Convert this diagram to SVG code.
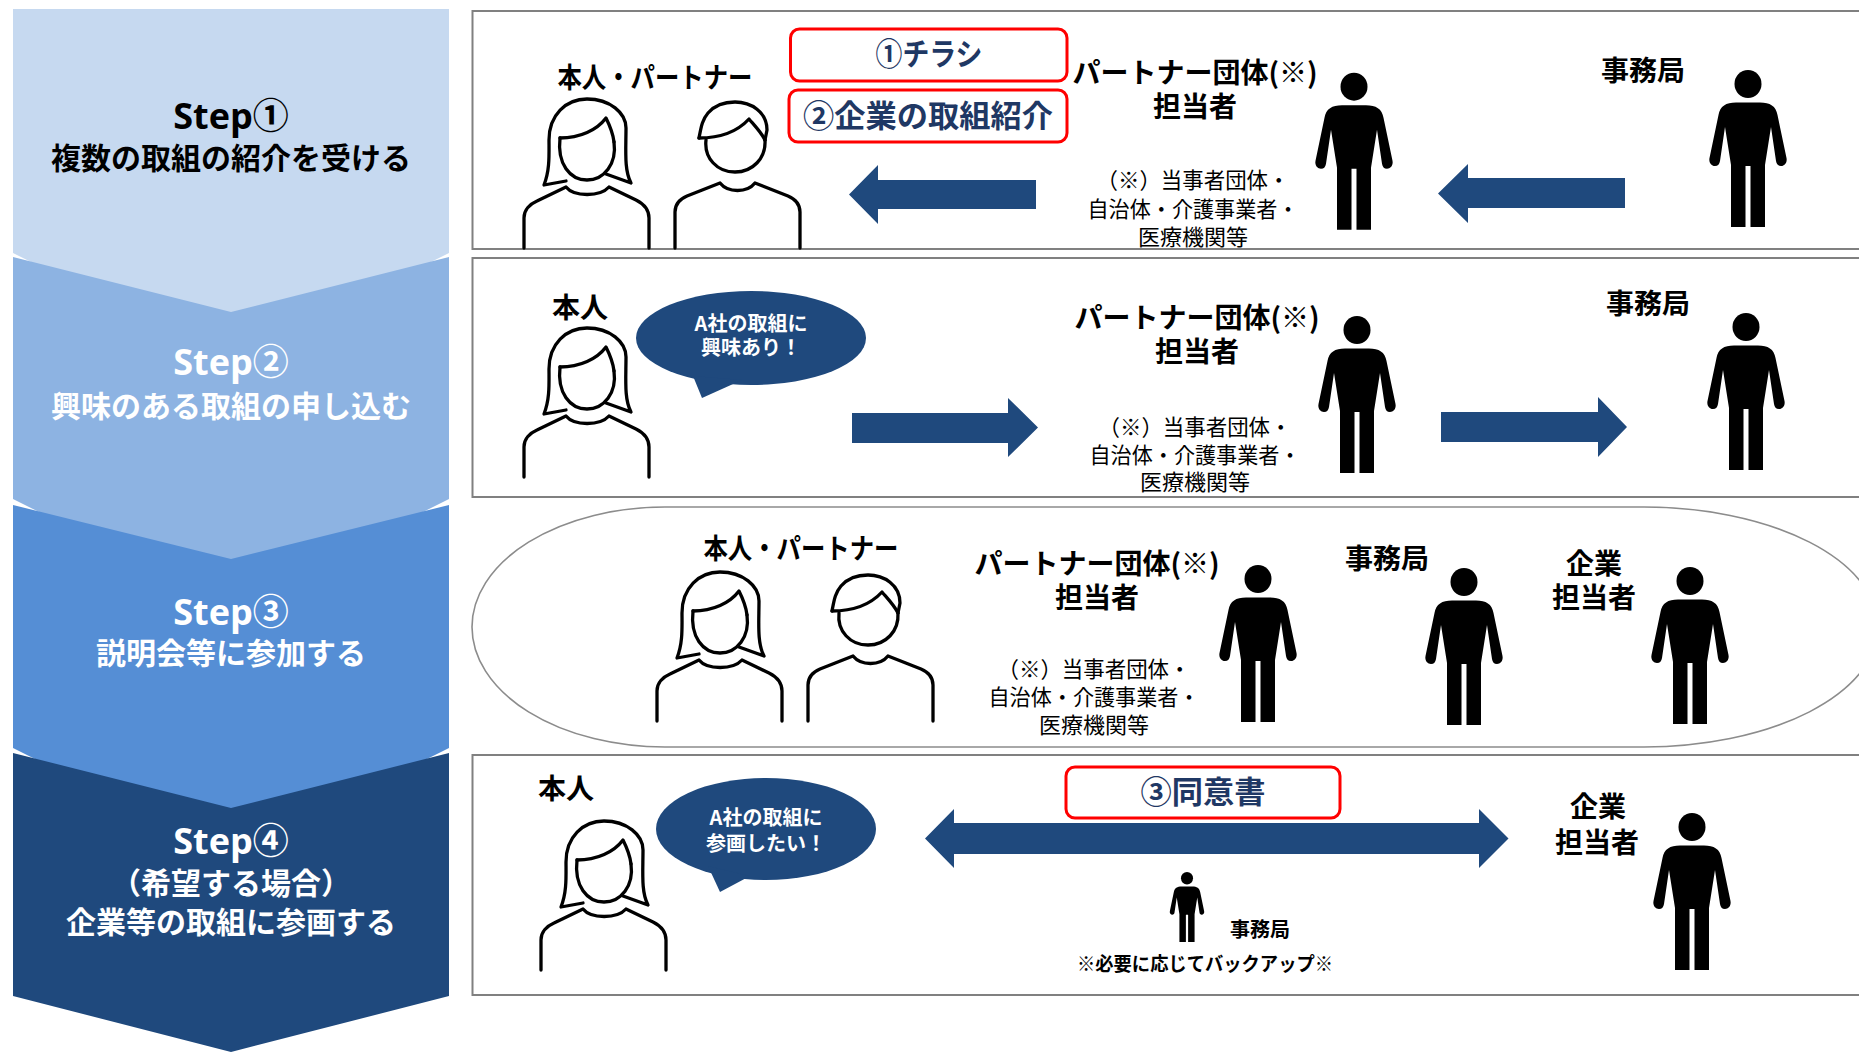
<svg xmlns="http://www.w3.org/2000/svg" width="1859" height="1054" viewBox="0 0 1859 1054">
<style>
  .lbl { font-family: 'Noto Sans CJK JP', sans-serif; font-weight: 700; font-size: 28px; fill: #000; text-anchor: middle; }
  .sm { font-family: 'Noto Sans CJK JP', sans-serif; font-weight: 400; font-size: 22px; fill: #000; text-anchor: middle; }
  .step { font-family: 'Noto Sans CJK JP', sans-serif; font-weight: 700; font-size: 30px; text-anchor: middle; }
  .stepno { font-family: 'Open Sans', 'Noto Sans CJK JP', sans-serif; font-weight: 700; font-size: 36px; text-anchor: middle; }
  .dark { fill: #000; }
  .light { fill: #fff; }
  .panel { fill: #fff; stroke: #808080; stroke-width: 2; }
  .oval { fill: #fff; stroke: #8c8c8c; stroke-width: 1.6; }
  .redbox { fill: #fff; stroke: #ff0000; stroke-width: 3; }
  .redtxt { font-family: 'Noto Sans CJK JP', sans-serif; font-weight: 700; font-size: 31px; fill: #1f3864; text-anchor: middle; }
  .bubble { fill: #1f497d; }
  .bubtxt { font-family: 'Noto Sans CJK JP', sans-serif; font-weight: 700; font-size: 20px; fill: #fff; text-anchor: middle; }
  .line { fill: none; stroke: #000; stroke-width: 3.3; stroke-linecap: round; stroke-linejoin: round; }
  .pict { fill: #000; }
  .arrow { fill: #1f497d; }
</style>
<defs>
  <!-- outline icon: woman (126 x 150) -->
  <g id="woman">
    <path class="line" d="M36,40 C33,66 46,82 63,82 C80,82 93,66 90,44"/>
    <path class="line" d="M36,40 C56,40 73,32 82,20 C86,28 89,35 90,44"/>
    <path class="line" d="M42,83 L20,87 C26,72 25,56 25,42 C25,17 42,1 63,1 C86,1 102,15 102,30 C102,52 100,72 107,85 L82,76"/>
    <path class="line" d="M0,150 V120 C0,112 6,106 13,103 L42,89 C50,99 76,99 85,89 L112,102 C120,106 125,112 125,120 V150"/>
  </g>
  <!-- outline icon: man (125 x 150) -->
  <g id="man">
    <path class="line" d="M31,42 C29,60 42,74 60,74 C78,74 91,60 90,42"/>
    <path class="line" d="M24,40 C45,40 62,34 74,21 C80,28 86,34 90,42"/>
    <path class="line" d="M24,40 C26,30 27,22 33,15 C40,7 50,4 60,4 C76,4 92,14 92,32 L90,42"/>
    <path class="line" d="M0,150 V114 C0,106 5,101 12,98 L45,85 C53,95 72,95 80,85 L113,98 C120,101 125,106 125,114 V150"/>
  </g>
  <!-- filled pictogram, origin at top of head -->
  <g id="person" class="pict">
    <ellipse cx="0" cy="14" rx="13.5" ry="14"/>
    <path d="M-12,32.5 L12,32.5 C22,32.5 28,36 29.5,45 L38.5,88 C39.5,93 36,96 33,96 C30,96 28.5,94 28,91 L23,57 L17,95 L17,157 L2.5,157 L2.5,96 L-2.5,96 L-2.5,157 L-17,157 L-17,95 L-23,57 L-28,91 C-28.5,94 -30,96 -33,96 C-36,96 -39.5,93 -38.5,88 L-29.5,45 C-28,36 -22,32.5 -12,32.5 Z"/>
  </g>
</defs>

<rect x="0" y="0" width="1859" height="1054" fill="#fff"/>

<!-- step chevrons: each point runs on under the next step, leaving a thin white notch at the sides -->
<g id="steps">
  <g id="step1">
    <path d="M13,9 H449 V253 L231,362 L13,253 Z" fill="#c6d9f0"/>
    <text class="stepno dark" x="231" y="129">Step①</text>
    <text class="step dark" x="231" y="169">複数の取組の紹介を受ける</text>
  </g>
  <g id="step2">
    <path d="M13,257 L231,312 L449,257 V499 L231,608 L13,499 Z" fill="#8db3e2"/>
    <text class="stepno light" x="231" y="375">Step②</text>
    <text class="step light" x="231" y="417">興味のある取組の申し込む</text>
  </g>
  <g id="step3">
    <path d="M13,505 L231,559 L449,505 V748 L231,857 L13,748 Z" fill="#558ed5"/>
    <text class="stepno light" x="231" y="625">Step③</text>
    <text class="step light" x="231" y="664">説明会等に参加する</text>
  </g>
  <g id="step4">
    <path d="M13,753 L231,808 L449,753 V996 L231,1052 L13,996 Z" fill="#1f497d"/>
    <text class="stepno light" x="231" y="854">Step④</text>
    <text class="step light" x="231" y="894">（希望する場合）</text>
    <text class="step light" x="231" y="933">企業等の取組に参画する</text>
  </g>
</g>

<!-- panel frames -->
<g id="frames">
  <rect class="panel" x="472.5" y="11" width="1420" height="238"/>
  <rect class="panel" x="472.5" y="258" width="1420" height="239"/>
  <path class="oval" d="M665,507 H1644 A234,120 0 0 1 1644,747 H665 A193,120 0 0 1 665,507 Z"/>
  <rect class="panel" x="472.5" y="755" width="1420" height="240"/>
</g>

<!-- connectors -->
<g id="connectors">
  <polygon class="arrow" points="849,194.5 878,165 878,180 1036,180 1036,209 878,209 878,224"/>
  <polygon class="arrow" points="1438,193.5 1468,164 1468,178 1625,178 1625,208 1468,208 1468,223"/>
  <polygon class="arrow" points="1038,427.5 1008,398 1008,413 852,413 852,443 1008,443 1008,457"/>
  <polygon class="arrow" points="1627,427 1598,397 1598,412 1441,412 1441,442 1598,442 1598,457"/>
  <polygon class="arrow" points="925,838.5 954,809 954,823 1479,823 1479,809 1508.5,838.5 1479,868 1479,854 954,854 954,868"/>
</g>

<!-- step 1 row -->
<g id="s1-user">
  <text class="lbl" x="655" y="88" textLength="195" lengthAdjust="spacingAndGlyphs">本人・パートナー</text>
  <use href="#woman" transform="translate(524,98)"/>
  <use href="#man" transform="translate(675,98)"/>
</g>
<g id="s1-flyer">
  <rect class="redbox" x="790.5" y="29" width="276.5" height="52" rx="9"/>
  <text class="redtxt" x="929" y="65" textLength="107" lengthAdjust="spacingAndGlyphs">①チラシ</text>
</g>
<g id="s1-intro">
  <rect class="redbox" x="789" y="90" width="278" height="52" rx="9"/>
  <text class="redtxt" x="928" y="127" textLength="250" lengthAdjust="spacingAndGlyphs">②企業の取組紹介</text>
</g>
<g id="s1-partner">
  <text class="lbl" x="1195" y="83">パートナー団体(※)</text>
  <text class="lbl" x="1195" y="117">担当者</text>
  <text class="sm" x="1193" y="188" textLength="193" lengthAdjust="spacingAndGlyphs">（※）当事者団体・</text>
  <text class="sm" x="1193" y="217" textLength="211" lengthAdjust="spacingAndGlyphs">自治体・介護事業者・</text>
  <text class="sm" x="1193" y="245">医療機関等</text>
  <use href="#person" transform="translate(1354,72.7)"/>
</g>
<g id="s1-office">
  <text class="lbl" x="1643" y="81">事務局</text>
  <use href="#person" transform="translate(1748,70)"/>
</g>

<!-- step 2 row -->
<g id="s2-user">
  <text class="lbl" x="580" y="318">本人</text>
  <use href="#woman" transform="translate(524,327)"/>
</g>
<g id="s2-bubble">
  <ellipse class="bubble" cx="751" cy="338" rx="115" ry="47"/>
  <polygon class="bubble" points="693,376 702,398 742,380"/>
  <text class="bubtxt" x="751" y="331">A社の取組に</text>
  <text class="bubtxt" x="751" y="355">興味あり！</text>
</g>
<g id="s2-partner">
  <text class="lbl" x="1197" y="328">パートナー団体(※)</text>
  <text class="lbl" x="1197" y="362">担当者</text>
  <text class="sm" x="1195" y="435" textLength="193" lengthAdjust="spacingAndGlyphs">（※）当事者団体・</text>
  <text class="sm" x="1195" y="463" textLength="211" lengthAdjust="spacingAndGlyphs">自治体・介護事業者・</text>
  <text class="sm" x="1195" y="490">医療機関等</text>
  <use href="#person" transform="translate(1357,316)"/>
</g>
<g id="s2-office">
  <text class="lbl" x="1648" y="314">事務局</text>
  <use href="#person" transform="translate(1746,313)"/>
</g>

<!-- step 3 row -->
<g id="s3-user">
  <text class="lbl" x="801" y="559" textLength="195" lengthAdjust="spacingAndGlyphs">本人・パートナー</text>
  <use href="#woman" transform="translate(657,571)"/>
  <use href="#man" transform="translate(808,571)"/>
</g>
<g id="s3-partner">
  <text class="lbl" x="1097" y="574">パートナー団体(※)</text>
  <text class="lbl" x="1097" y="608">担当者</text>
  <text class="sm" x="1094" y="677" textLength="193" lengthAdjust="spacingAndGlyphs">（※）当事者団体・</text>
  <text class="sm" x="1094" y="705" textLength="211" lengthAdjust="spacingAndGlyphs">自治体・介護事業者・</text>
  <text class="sm" x="1094" y="733">医療機関等</text>
  <use href="#person" transform="translate(1258,565)"/>
</g>
<g id="s3-office">
  <text class="lbl" x="1387" y="569">事務局</text>
  <use href="#person" transform="translate(1464,568)"/>
</g>
<g id="s3-company">
  <text class="lbl" x="1594" y="574">企業</text>
  <text class="lbl" x="1594" y="608">担当者</text>
  <use href="#person" transform="translate(1690,567)"/>
</g>

<!-- step 4 row -->
<g id="s4-user">
  <text class="lbl" x="566" y="799">本人</text>
  <use href="#woman" transform="translate(541,820)"/>
</g>
<g id="s4-bubble">
  <ellipse class="bubble" cx="766" cy="829" rx="110" ry="51"/>
  <polygon class="bubble" points="708,866 720,892 750,876"/>
  <text class="bubtxt" x="766" y="825">A社の取組に</text>
  <text class="bubtxt" x="766" y="851">参画したい！</text>
</g>
<g id="s4-consent">
  <rect class="redbox" x="1066" y="767" width="274" height="51" rx="9"/>
  <text class="redtxt" x="1203" y="803" textLength="125" lengthAdjust="spacingAndGlyphs">③同意書</text>
</g>
<g id="s4-office">
  <use href="#person" transform="translate(1187,872) scale(0.446)"/>
  <text class="lbl" x="1260" y="937" style="font-size:20px">事務局</text>
  <text class="lbl" x="1205" y="971" style="font-size:19px" textLength="256" lengthAdjust="spacingAndGlyphs">※必要に応じてバックアップ※</text>
</g>
<g id="s4-company">
  <text class="lbl" x="1598" y="817">企業</text>
  <text class="lbl" x="1597" y="853">担当者</text>
  <use href="#person" transform="translate(1692,813)"/>
</g>
</svg>
